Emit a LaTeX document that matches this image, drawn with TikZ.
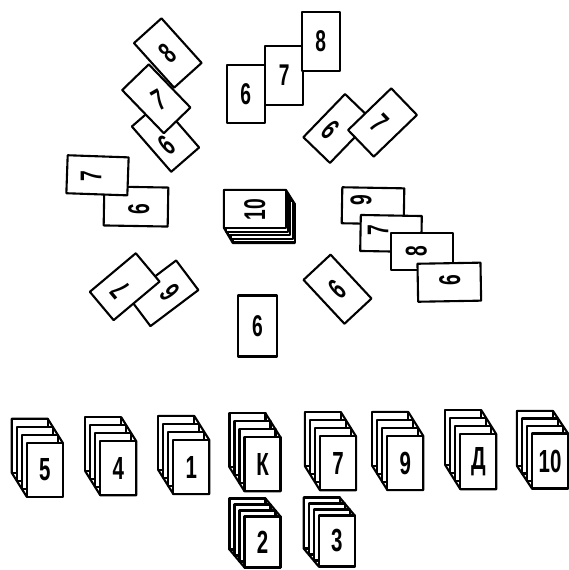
\documentclass[tikz,border=0pt]{standalone}
\usepackage{fontspec}
\setmainfont{Liberation Sans}
\newcommand\sq[1]{\scalebox{0.64}[1]{#1}}
% bottom pile: name, cx, cy, label, dy-step, height
\newcommand\pile[6]{%
  \draw[hull] (#2-33,#3-#6/2-3*#5) -- (#2+3,#3-#6/2-3*#5) -- (#2+18,#3-#6/2)
     -- (#2+18,#3+#6/2) -- (#2-18,#3+#6/2) -- (#2-33,#3+#6/2-3*#5) -- cycle;
  \foreach \k in {3,2,1}{%
    \node[cardbox, minimum width=36pt, minimum height=#6pt] (#1b\k) at (#2-5*\k,#3-#5*\k) {};}
  \node[cardbox, minimum width=36pt, minimum height=#6pt] (#1) at (#2,#3) {};
  \node[bigdigit] (#1t) at (#1.center) {\sq{#4}};
}
\begin{document}
\begin{tikzpicture}[x=1pt,y=-1pt,
  cardbox/.style={draw, fill=white, line width=2.1pt, line join=round, inner sep=0pt, outer sep=0pt},
  portrait/.style={cardbox, minimum width=37pt, minimum height=60pt},
  landscape/.style={cardbox, minimum width=62pt, minimum height=37pt},
  digit/.style={font=\fontsize{30}{30}\selectfont\bfseries, inner sep=0pt},
  bigdigit/.style={font=\fontsize{32}{32}\selectfont\bfseries, inner sep=0pt},
  hull/.style={draw, fill=white, line width=2.1pt, line join=round}]
\useasboundingbox (0,0) rectangle (569,570);

% ---- upper-left tilted stack 8 / 7 / 6
\node[portrait, rotate=41] (c6a) at (165.5,137) {};
\node[digit, rotate=41] (c6at) at (167,145) {\sq{6}};
\node[portrait, rotate=42] (c8a) at (167.8,53) {};
\node[digit, rotate=42] (c8at) at (c8a.center) {\sq{8}};
\node[portrait, rotate=44] (c7a) at (156.3,98.8) {};
\node[digit, rotate=30] (c7at) at (159,100) {\sq{7}};

% ---- top upright 6 7 8
\node[cardbox, minimum width=38pt, minimum height=58pt] (c6b) at (245.8,94.2) {};
\node[digit] (c6bt) at (c6b.center) {\sq{6}};
\node[cardbox, minimum width=38pt, minimum height=59pt] (c7b) at (284.2,75.3) {};
\node[digit] (c7bt) at (c7b.center) {\sq{7}};
\node[cardbox, minimum width=38pt, minimum height=59pt] (c8b) at (320.8,41.5) {};
\node[digit] (c8bt) at (c8b.center) {\sq{8}};

% ---- top-right tilted pair 6 7
\node[portrait, rotate=-44] (c6c) at (337.5,128.5) {};
\node[digit, rotate=-44] (c6ct) at (331,130) {\sq{6}};
\node[portrait, rotate=-46] (c7c) at (382.5,122.5) {};
\node[digit, rotate=-46] (c7ct) at (380,123) {\sq{7}};

% ---- left pair 7 / 6
\node[cardbox, minimum width=64pt, minimum height=39pt, rotate=-1] (c6d) at (136,206.5) {};
\node[digit, rotate=90] (c6dt) at (138.7,208.7) {\sq{6}};
\node[cardbox, minimum width=61pt, minimum height=38pt, rotate=-2] (c7d) at (97.5,175.3) {};
\node[digit, rotate=90] (c7dt) at (91,176) {\sq{7}};

% ---- lower-left tilted pair
\node[portrait, rotate=-53] (c6e) at (163.3,293.3) {};
\node[digit, rotate=127] (c6et) at (170,292) {\sq{6}};
\node[portrait, rotate=-50] (c7e) at (124.7,286.7) {};
\node[digit, rotate=130] (c7et) at (120,290) {\sq{7}};

% ---- right cascade 9 7 8 6
\node[cardbox, minimum width=62pt, minimum height=36pt, rotate=-1] (c9f) at (373,205.8) {};
\node[digit, rotate=90] (c9ft) at (361,200) {\sq{9}};
\node[cardbox, minimum width=61pt, minimum height=36pt, rotate=-1] (c7f) at (391,233.5) {};
\node[digit, rotate=90] (c7ft) at (378,230) {\sq{7}};
\node[cardbox, minimum width=62pt, minimum height=37pt] (c8f) at (422.2,251.7) {};
\node[digit, rotate=90] (c8ft) at (416.3,251.3) {\sq{8}};
\node[cardbox, minimum width=63pt, minimum height=38pt, rotate=1] (c6f) at (449.3,282.2) {};
\node[digit, rotate=90] (c6ft) at (449.7,280) {\sq{6}};

% ---- centre stack 10
\draw[hull] (224,190) -- (286,190) -- (294.8,204) -- (294.8,243) -- (232.8,243) -- (224,228) -- cycle;
\foreach \k in {4,3,2,1}{%
  \node[landscape, minimum height=38pt] (c10s\k) at (255+2.2*\k,209+3.6*\k) {};}
\node[landscape, minimum height=38pt] (c10) at (255,209) {};
\node[digit, rotate=90] (c10t) at (254.7,209.5) {\sq{10}};

% ---- tilted single 6
\node[portrait, rotate=43] (c6g) at (337.5,289.2) {};
\node[digit, rotate=43] (c6gt) at (c6g.center) {\sq{6}};

% ---- upright single 6
\node[cardbox, minimum width=39pt, minimum height=61pt] (c6h) at (257.5,326) {};
\node[digit] (c6ht) at (c6h.center) {\sq{6}};

% ---- bottom piles
\pile{p5}{44.7}{469.7}{5}{8}{54}
\pile{p4}{118.3}{468.3}{4}{8}{54}
\pile{p1}{191.3}{467}{1}{8}{54}
\pile{pK}{262.5}{464.3}{К}{8}{54}
\pile{p7}{338}{463.3}{7}{8}{54}
\pile{p9}{405.3}{463}{9}{8}{54}
\pile{pD}{478.3}{461.7}{Д}{8}{55}
\pile{p10}{550}{461}{10}{7.5}{55}
\pile{p2}{262.5}{542}{2}{6}{51}
\pile{p3}{336.7}{541}{3}{6}{51}
\end{tikzpicture}
\end{document}
